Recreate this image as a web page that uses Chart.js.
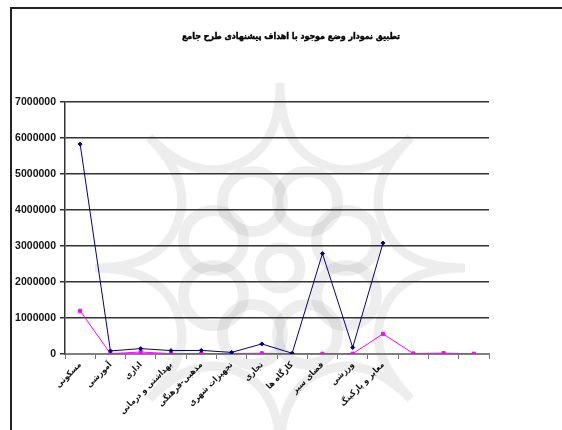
<!DOCTYPE html>
<html>
<head>
<meta charset="utf-8">
<script src="https://cdn.jsdelivr.net/npm/chart.js@4.4.0/dist/chart.umd.min.js"></script>
<style>
  html, body { margin: 0; background: #fff; overflow: hidden; }
  canvas { display: block; }
</style>
</head>
<body>
<canvas id="landUseChart" width="562" height="430"></canvas>
<script>
// land use categories (last three have no label in the original)
const categories = ['مسکونی', 'آموزشی', 'اداری', 'بهداشتی و درمانی', 'مذهبی-فرهنگی', 'تجهیزات شهری',
  'تجاری', 'کارگاه ها', 'فضای سبز', 'ورزشی', 'معابر و پارکینگ', '', '', ''];

// existing situation (navy)
const existingValues = [5830000, 85000, 150000, 95000, 100000, 45000, 280000, 20000, 2790000, 180000, 3080000, null, null, null];

// master plan proposal (magenta)
const proposedValues = [1200000, 10000, 55000, 10000, 10000, 15000, 20000, 5000, 8000, 8000, 560000, 15000, 25000, 8000];

const yTicks = [0, 1000000, 2000000, 3000000, 4000000, 5000000, 6000000, 7000000];

const chartTitle = 'تطبیق نمودار وضع موجود با اهداف پیشنهادی طرح جامع';

// frame of the original sheet + faint rosette watermark behind the plot
const backgroundPlugin = {
    id: 'sheetBackground',
    beforeDraw(chart) {
        const c = chart.ctx;
        c.save();
        c.strokeStyle = '#222';
        c.lineWidth = 2;
        c.beginPath();
        c.moveTo(11, 430);
        c.lineTo(11, 8);
        c.lineTo(562, 8);
        c.stroke();

        const cx = 280, cy = 268;
        c.strokeStyle = 'rgba(0,0,0,0.07)';
        c.lineWidth = 11;
        for (let i = 0; i < 8; i++) {
            const a = Math.PI / 8 + i * Math.PI / 4;
            c.beginPath();
            c.arc(cx + Math.cos(a) * 72, cy + Math.sin(a) * 72, 30, 0, Math.PI * 2);
            c.stroke();
        }
        c.beginPath();
        c.arc(cx, cy, 20, 0, Math.PI * 2);
        c.stroke();
        c.lineWidth = 9;
        for (let i = 0; i < 8; i++) {
            const a = i * Math.PI / 4;
            const a1 = a - Math.PI / 8, a2 = a + Math.PI / 8;
            c.beginPath();
            c.moveTo(cx + Math.cos(a1) * 112, cy + Math.sin(a1) * 112);
            c.quadraticCurveTo(cx + Math.cos(a) * 120, cy + Math.sin(a) * 120, cx + Math.cos(a) * 185, cy + Math.sin(a) * 185);
            c.quadraticCurveTo(cx + Math.cos(a) * 120, cy + Math.sin(a) * 120, cx + Math.cos(a2) * 112, cy + Math.sin(a2) * 112);
            c.stroke();
        }
        c.restore();
    }
};

// title centred over the whole picture (the built-in one centres on the padded box)
const titlePlugin = {
    id: 'farsiTitle',
    afterDraw(chart) {
        const c = chart.ctx;
        c.save();
        c.font = 'bold 8.8px "DejaVu Sans Condensed", "DejaVu Sans"';
        c.fillStyle = '#000';
        c.strokeStyle = '#000';
        c.lineWidth = 0.4;
        c.textAlign = 'center';
        c.textBaseline = 'middle';
        c.fillText(chartTitle, 291, 37);
        c.strokeText(chartTitle, 291, 37);
        c.restore();
    }
};

function drawChart() {
    const ctx = document.getElementById('landUseChart').getContext('2d');
    new Chart(ctx, {
        type: 'line',
        data: {
            labels: categories,
            datasets: [{
                label: 'وضع موجود',
                data: existingValues,
                borderColor: '#000080',
                backgroundColor: '#000080',
                borderWidth: 1,
                pointStyle: 'rectRot',
                pointRadius: 2,
                tension: 0,
                spanGaps: false
            }, {
                label: 'طرح جامع',
                data: proposedValues,
                borderColor: '#ff00ff',
                backgroundColor: '#ff00ff',
                borderWidth: 1,
                pointStyle: 'rect',
                pointRadius: 2.2,
                tension: 0
            }]
        },
        options: {
            responsive: false,
            animation: false,
            layout: { padding: { left: 0, right: 73, top: 102, bottom: 0 } },
            plugins: {
                legend: { display: false },
                tooltip: { enabled: false },
                title: { display: false }
            },
            scales: {
                x: {
                    offset: true,
                    grid: { display: true, drawOnChartArea: false, offset: true, tickLength: 5, color: '#777', lineWidth: 1 },
                    border: { display: true, color: '#808080', width: 2 },
                    ticks: {
                        autoSkip: false,
                        minRotation: 45,
                        maxRotation: 45,
                        padding: 1,
                        color: '#111',
                        font: { family: 'DejaVu Sans Condensed', size: 8.5, weight: 'bold' }
                    },
                    afterFit: function(scale) { scale.height = 76; }
                },
                y: {
                    min: 0,
                    max: 7000000,
                    afterBuildTicks: function(scale) { scale.ticks = yTicks.map(v => ({ value: v })); },
                    grid: {
                        color: ctx => ctx.tick && ctx.tick.value === 0 ? 'rgba(0,0,0,0)' : '#333',
                        lineWidth: 1.5,
                        tickLength: 5,
                        tickColor: '#333'
                    },
                    border: { display: true, color: '#333', width: 1.5 },
                    ticks: {
                        padding: 4,
                        color: '#111',
                        font: { family: 'Liberation Sans', size: 10.5, weight: 'bold' },
                        callback: v => String(v)
                    },
                    afterFit: function(scale) { scale.width = 65; }
                }
            }
        },
        plugins: [backgroundPlugin, titlePlugin]
    });
}

document.addEventListener('DOMContentLoaded', function() {
    drawChart();
});
</script>
</body>
</html>
